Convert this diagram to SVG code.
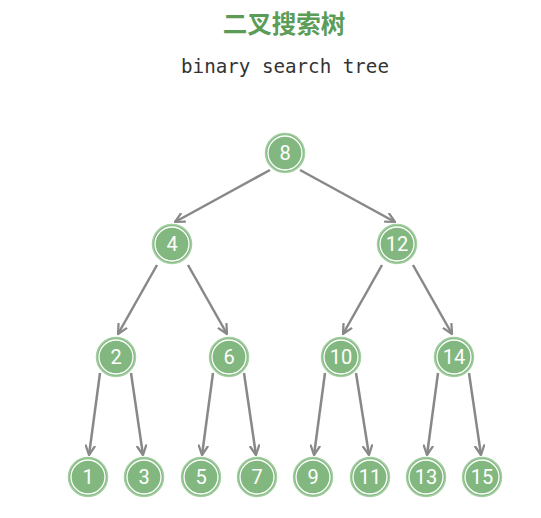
<svg xmlns="http://www.w3.org/2000/svg" width="541" height="518" viewBox="0 0 541 518">
<defs>
<style>
.title{font-family:"Noto Sans CJK SC","Noto Sans",sans-serif;font-size:24.5px;font-weight:bold;fill:#5b9c57;text-anchor:middle}
.sub{font-family:"DejaVu Sans Mono","Liberation Mono",monospace;font-size:19.2px;fill:#333;text-anchor:middle}
.node circle.o{fill:#82b880;stroke:#a3cfa0;stroke-width:1.5}
.node circle.i{fill:none;stroke:#ffffff;stroke-width:1.3}
.node text{font-family:"Roboto","Open Sans",sans-serif;font-size:20px;fill:#ffffff;text-anchor:middle;dominant-baseline:central}
.edges line{stroke:#888888;stroke-width:2.5;marker-end:url(#arr)}
</style>
<marker id="arr" viewBox="0 0 10 10" refX="9" refY="5" markerWidth="4.5" markerHeight="4.5" orient="auto" markerUnits="strokeWidth">
<path d="M1,1 L9,5 L1,9" fill="none" stroke="#888888" stroke-width="2" stroke-linecap="round" stroke-linejoin="round"/>
</marker>
</defs>
<rect width="541" height="518" fill="#ffffff"/>
<text class="title" x="284" y="33">二叉搜索树</text>
<text class="sub" x="285" y="73">binary search tree</text>
<g class="edges">
<line x1="270" y1="170" x2="175" y2="222"/>
<line x1="300" y1="170" x2="395" y2="222"/>
<line x1="157" y1="265" x2="118" y2="334"/>
<line x1="188" y1="265" x2="227" y2="334"/>
<line x1="382" y1="265" x2="343" y2="334"/>
<line x1="413" y1="265" x2="452" y2="334"/>
<line x1="100" y1="373" x2="89" y2="455"/>
<line x1="131" y1="373" x2="143" y2="455"/>
<line x1="213" y1="373" x2="202" y2="455"/>
<line x1="244" y1="373" x2="256" y2="455"/>
<line x1="325" y1="373" x2="314" y2="455"/>
<line x1="356" y1="373" x2="369" y2="455"/>
<line x1="438" y1="373" x2="427" y2="455"/>
<line x1="469" y1="373" x2="481" y2="455"/>
</g>
<g id="n8" class="node"><circle class="o" cx="285" cy="153" r="19.5"/><circle class="i" cx="285" cy="153" r="17"/><text x="285" y="153">8</text></g>
<g id="n4" class="node"><circle class="o" cx="172" cy="244" r="19.5"/><circle class="i" cx="172" cy="244" r="17"/><text x="172" y="244">4</text></g>
<g id="n12" class="node"><circle class="o" cx="397" cy="244" r="19.5"/><circle class="i" cx="397" cy="244" r="17"/><text x="397" y="244">12</text></g>
<g id="n2" class="node"><circle class="o" cx="116" cy="357" r="19.5"/><circle class="i" cx="116" cy="357" r="17"/><text x="116" y="357">2</text></g>
<g id="n6" class="node"><circle class="o" cx="229" cy="357" r="19.5"/><circle class="i" cx="229" cy="357" r="17"/><text x="229" y="357">6</text></g>
<g id="n10" class="node"><circle class="o" cx="341" cy="357" r="19.5"/><circle class="i" cx="341" cy="357" r="17"/><text x="341" y="357">10</text></g>
<g id="n14" class="node"><circle class="o" cx="454" cy="357" r="19.5"/><circle class="i" cx="454" cy="357" r="17"/><text x="454" y="357">14</text></g>
<g id="n1" class="node"><circle class="o" cx="88" cy="477" r="19.5"/><circle class="i" cx="88" cy="477" r="17"/><text x="88" y="477">1</text></g>
<g id="n3" class="node"><circle class="o" cx="144" cy="477" r="19.5"/><circle class="i" cx="144" cy="477" r="17"/><text x="144" y="477">3</text></g>
<g id="n5" class="node"><circle class="o" cx="201" cy="477" r="19.5"/><circle class="i" cx="201" cy="477" r="17"/><text x="201" y="477">5</text></g>
<g id="n7" class="node"><circle class="o" cx="257" cy="477" r="19.5"/><circle class="i" cx="257" cy="477" r="17"/><text x="257" y="477">7</text></g>
<g id="n9" class="node"><circle class="o" cx="313" cy="477" r="19.5"/><circle class="i" cx="313" cy="477" r="17"/><text x="313" y="477">9</text></g>
<g id="n11" class="node"><circle class="o" cx="370" cy="477" r="19.5"/><circle class="i" cx="370" cy="477" r="17"/><text x="370" y="477">11</text></g>
<g id="n13" class="node"><circle class="o" cx="426" cy="477" r="19.5"/><circle class="i" cx="426" cy="477" r="17"/><text x="426" y="477">13</text></g>
<g id="n15" class="node"><circle class="o" cx="482" cy="477" r="19.5"/><circle class="i" cx="482" cy="477" r="17"/><text x="482" y="477">15</text></g>
</svg>
